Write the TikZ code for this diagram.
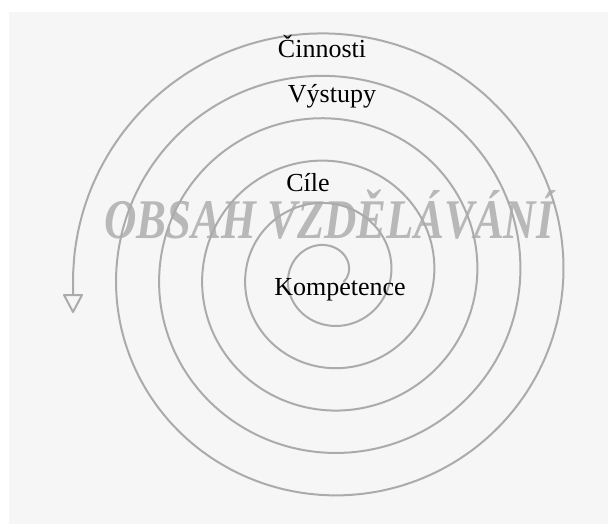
\documentclass[tikz,border=0pt]{standalone}
\usepackage{fontspec}
\setmainfont{Liberation Serif}
\definecolor{bgc}{HTML}{F6F6F6}
\definecolor{spiralc}{HTML}{ABABAB}
\definecolor{markc}{HTML}{B8B8B8}
\tikzset{
  spiral/.style={draw=spiralc, line width=2pt, line cap=round, line join=round},
  lbltext/.style={anchor=base, inner sep=0pt, text=black, font=\fontsize{26}{30}\selectfont},
  wmtext/.style={anchor=base, inner sep=0pt, text=markc, font=\fontsize{56}{60}\selectfont\bfseries\itshape}
}
\begin{document}
\begin{tikzpicture}[x=1pt,y=-1pt]
  \useasboundingbox (0,0) rectangle (608,524);
  \fill[white] (0,0) rectangle (608,524);
  \fill[bgc] (9,12) rectangle (608,524);
  % watermark
  \node[wmtext] (obsah) at (329,238) {\scalebox{0.8}[1]{OBSAH VZDĚLÁVÁNÍ}};
  % spiral
  \draw[spiral] plot[smooth, samples=400, domain=-25:1980, variable=\t]
    ({329 + (19 + 0.11967*\t)*cos(\t)}, {275 - 0.985*(19 + 0.11967*\t)*sin(\t)})
    coordinate (send);
  \coordinate (tipbase) at (73,295);
  \draw[spiral] (send) -- (tipbase);
  \draw[spiral, fill=bgc] (64,295) -- (82,295) -- (73,312) -- cycle;
  % labels
  \node[lbltext] (cinnosti) at (322,58) {Činnosti};
  \node[lbltext] (vystupy) at (332,103) {Výstupy};
  \node[lbltext] (cile) at (308,192) {Cíle};
  \node[lbltext] (komp) at (340,295) {Kompetence};
\end{tikzpicture}
\end{document}
